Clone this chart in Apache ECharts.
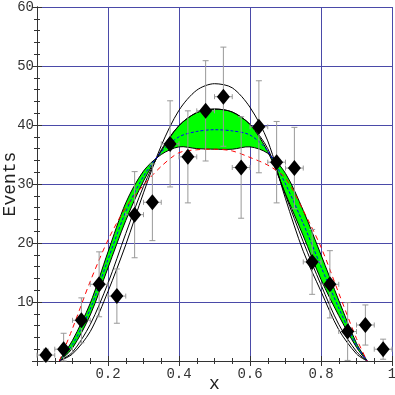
<!DOCTYPE html>
<html>
<head>
<meta charset="utf-8">
<script src="https://cdn.jsdelivr.net/npm/echarts@6/dist/echarts.min.js"></script>
<style>
html, body { margin: 0; padding: 0; background: #fff; }
#chart { width: 395px; height: 395px; }
</style>
</head>
<body>
<div id="chart"></div>
<script>
// measured bins
const binX = [0.025, 0.075, 0.125, 0.175, 0.225, 0.275, 0.325, 0.375, 0.425, 0.475,
  0.525, 0.575, 0.625, 0.675, 0.725, 0.775, 0.825, 0.875, 0.925, 0.975];
const events = [1.0, 2.0, 6.9, 13.0, 11.0, 24.8, 26.9, 36.8, 34.6, 42.4,
  44.8, 32.8, 39.7, 33.7, 32.7, 16.8, 13.0, 5.0, 6.1, 2.0];
const eventsErr = [1.0, 2.7, 3.8, 5.5, 4.6, 7.3, 6.5, 7.3, 7.8, 8.5,
  8.4, 8.6, 7.8, 6.9, 6.9, 5.5, 5.7, 4.9, 3.4, 1.7];
const binHalf = [0.025, 0.025, 0.025, 0.025, 0.025, 0.025, 0.025, 0.025, 0.025, 0.025,
  0.025, 0.025, 0.025, 0.025, 0.025, 0.025, 0.025, 0.025, 0.025, 0.025];

// model curves
const curveX = [0.063, 0.1, 0.15, 0.2, 0.25, 0.3, 0.35, 0.4, 0.45, 0.5,
  0.55, 0.6, 0.65, 0.7, 0.75, 0.8, 0.85, 0.9, 0.93];
const tallCurve = [0, 1.2, 5, 11.8, 19.7, 28.5, 36.5, 42.5, 45.9, 47,
  46.3, 43, 37.3, 27.5, 18.6, 11.8, 5.3, 1.2, 0];
const narrowCurve = [0, 1.5, 6.2, 13.2, 21.6, 29.6, 35.8, 39.9, 42.1, 42.7,
  42.2, 40.1, 36, 28.1, 20.2, 12.9, 6.2, 1.6, 0];
const bandUpper = [0, 2.2, 7.8, 15.8, 23.8, 30.5, 35.6, 39.9, 42.1, 42.7,
  42.2, 40.1, 35.5, 28.3, 21.2, 13.8, 7.7, 2.3, 0];
const bandLower = [0, 3.5, 9.8, 18.5, 26.8, 32.2, 35, 36.3, 36, 35.9,
  35.9, 36.3, 35.2, 31.8, 25.5, 18, 10.3, 3, 0];
const bandMid = [0, 2.8, 8.8, 17.2, 25.3, 31.3, 35.4, 38, 38.9, 39.2,
  39, 38.3, 35.6, 30, 23.3, 16, 9, 2.6, 0];
const redCurve = [0, 5.5, 13.5, 20.5, 26, 29.8, 33, 35.3, 35.8, 35.9,
  35.6, 34.5, 33.2, 31, 25.5, 19.3, 11.5, 3.8, 0];

const FONT = '"Courier New", "Liberation Mono", monospace';
const GRID_COLOR = '#4a4aa8';
const FRAME = '#333';

function pairs(ys) {
  return curveX.map((x, i) => [x, ys[i]]);
}

function curveSeries(ys, style) {
  return {
    type: 'line',
    data: pairs(ys),
    showSymbol: false,
    smooth: 0.3,
    lineStyle: style,
    silent: true,
    z: 3
  };
}

function renderBand(params, api) {
  const pts = [];
  for (let i = 0; i < curveX.length; i++) pts.push(api.coord([curveX[i], bandUpper[i]]));
  for (let i = curveX.length - 2; i > 0; i--) pts.push(api.coord([curveX[i], bandLower[i]]));
  return {
    type: 'polygon',
    shape: { points: pts, smooth: 0.3 },
    style: { fill: '#00ff00', stroke: '#000', lineWidth: 1 }
  };
}

function renderErr(params, api) {
  const x = api.value(0), y = api.value(1), xe = api.value(2), ye = api.value(3);
  const top = api.coord([x, y + ye]);
  const bot = api.coord([x, Math.max(0, y - ye)]);
  const left = api.coord([x - xe, y]);
  const right = api.coord([x + xe, y]);
  const st = { stroke: '#999', lineWidth: 1 };
  const cw = 3, ch = 2.5;
  const seg = (x1, y1, x2, y2) => ({ type: 'line', shape: { x1, y1, x2, y2 }, style: st });
  return {
    type: 'group',
    children: [
      seg(top[0], top[1], bot[0], bot[1]),
      seg(top[0] - cw, top[1], top[0] + cw, top[1]),
      seg(bot[0] - cw, bot[1], bot[0] + cw, bot[1]),
      seg(left[0], left[1], right[0], right[1]),
      seg(left[0], left[1] - ch, left[0], left[1] + ch),
      seg(right[0], right[1] - ch, right[0], right[1] + ch)
    ]
  };
}

const chart = echarts.init(document.getElementById('chart'));

const tickLabel = { fontFamily: FONT, fontSize: 14, color: '#333' };
const tickStyle = { inside: true, length: 5, lineStyle: { color: FRAME } };
const minorStyle = { show: true, length: 3, lineStyle: { color: FRAME } };

chart.setOption({
  animation: false,
  grid: { left: 37, top: 7, width: 355, height: 354, containLabel: false, outerBoundsMode: 'none' },
  xAxis: [
    {
      type: 'value', min: 0, max: 1, interval: 0.2, position: 'bottom',
      name: 'x', nameLocation: 'middle', nameGap: 14, nameMoveOverlap: false,
      nameTextStyle: { fontFamily: FONT, fontSize: 18, color: '#222' },
      axisLine: { lineStyle: { color: FRAME } },
      axisTick: tickStyle,
      minorTick: Object.assign({ splitNumber: 4 }, minorStyle),
      splitLine: { show: true, lineStyle: { color: GRID_COLOR, width: 1 } },
      axisLabel: Object.assign({ margin: 6, formatter: v => v === 0 ? '' : (v === 1 ? '1' : v.toFixed(1)) }, tickLabel)
    },
    {
      type: 'value', min: 0, max: 1, interval: 0.2, position: 'top',
      axisLine: { show: true, lineStyle: { color: FRAME } },
      axisTick: tickStyle,
      minorTick: Object.assign({ splitNumber: 4 }, minorStyle),
      splitLine: { show: false },
      axisLabel: { show: false }
    }
  ],
  yAxis: [
    {
      type: 'value', min: 0, max: 60, interval: 10, position: 'left',
      name: 'Events', nameLocation: 'middle', nameGap: 18, nameMoveOverlap: false,
      nameTextStyle: { fontFamily: FONT, fontSize: 18, color: '#222' },
      axisLine: { show: true, lineStyle: { color: FRAME } },
      axisTick: Object.assign({ show: true }, tickStyle),
      minorTick: Object.assign({ splitNumber: 5 }, minorStyle),
      splitLine: { show: true, lineStyle: { color: GRID_COLOR, width: 1 } },
      axisLabel: Object.assign({ margin: 3, formatter: v => v === 0 ? '' : String(v) }, tickLabel)
    },
    {
      type: 'value', min: 0, max: 60, interval: 10, position: 'right',
      axisLine: { show: true, lineStyle: { color: FRAME } },
      axisTick: Object.assign({ show: true }, tickStyle),
      minorTick: Object.assign({ splitNumber: 5 }, minorStyle),
      splitLine: { show: false },
      axisLabel: { show: false }
    }
  ],
  series: [
    {
      type: 'custom',
      renderItem: renderBand,
      data: [[0.5, 40]],
      silent: true,
      z: 2
    },
    curveSeries(tallCurve, { color: '#000', width: 1 }),
    curveSeries(narrowCurve, { color: '#000', width: 1 }),
    curveSeries(bandMid, { color: '#0000ff', width: 1, type: [3, 2] }),
    curveSeries(redCurve, { color: '#ff0000', width: 1, type: [5, 4] }),
    {
      type: 'custom',
      renderItem: renderErr,
      data: binX.map((x, i) => [x, events[i], binHalf[i], eventsErr[i]]),
      silent: true,
      z: 5
    },
    {
      type: 'scatter',
      data: binX.map((x, i) => [x, events[i]]),
      symbol: 'diamond',
      symbolSize: [13, 16],
      itemStyle: { color: '#000', opacity: 1 },
      silent: true,
      z: 6
    }
  ]
});
</script>
</body>
</html>
